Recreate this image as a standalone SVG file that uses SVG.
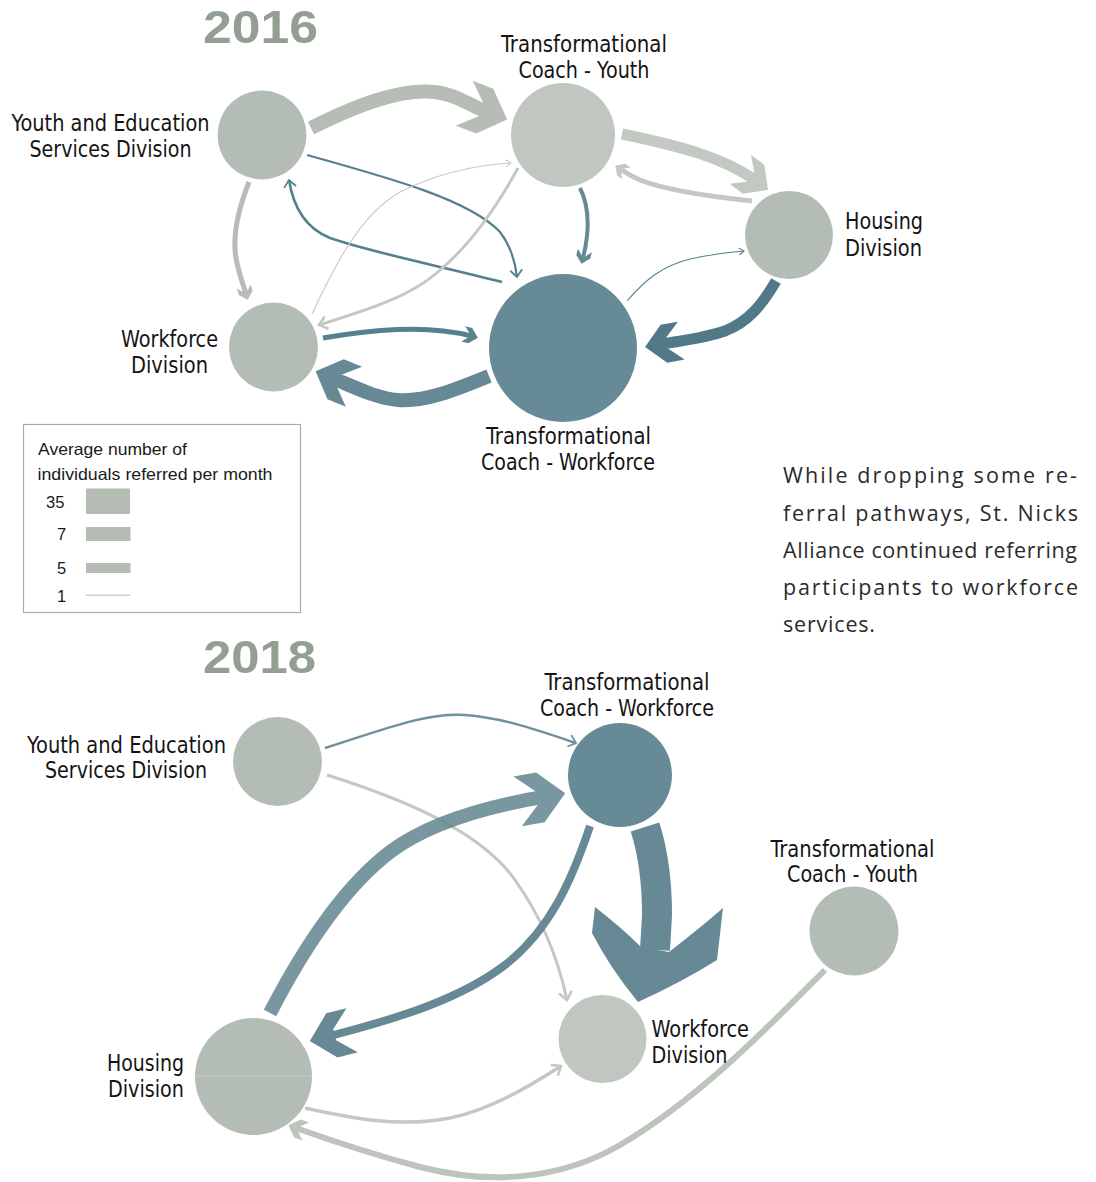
<svg xmlns="http://www.w3.org/2000/svg" xmlns:xlink="http://www.w3.org/1999/xlink" width="1096" height="1182" viewBox="0 0 1096 1182">
  <style>
    .year { font-family: "Liberation Sans", Arial, sans-serif; font-weight: bold; font-size: 46px; fill: #939f93; }
    .lbl { font-family: "Liberation Sans Narrow", "DejaVu Sans Condensed", sans-serif; font-size: 23px; fill: #141414; text-anchor: middle; }
    .lbl-l { font-family: "Liberation Sans Narrow", "DejaVu Sans Condensed", sans-serif; font-size: 23px; fill: #141414; }
    .leg { font-family: "Liberation Sans", Arial, sans-serif; font-size: 16.5px; fill: #1a1a1a; }
    .para { font-family: "Open Sans", "Noto Sans", sans-serif; font-size: 21.5px; fill: #2b2b2b; }
    .n-gray { fill: #b4bdb5; }
    .n-light { fill: #c0c7c0; }
    .n-teal { fill: #668a96; }
    .c { fill: none; stroke-linecap: butt; }
    .gray { stroke: #b5bdb5; }
    .lgray { stroke: #c2c9c2; }
    .teal { stroke: #668995; }
    .dteal { stroke: #517987; }
    .thin-teal { stroke: #55808e; }
  </style>
  <defs>
    <!-- notched chevron arrowhead; origin = end of shaft, tip 20 units ahead -->
    <path id="chev" d="M20,0 L-4,-24 L-26,-24 L-7,-6 L-7,6 L-26,24 L-4,24 Z"/>
    <marker id="h-gray-1" markerUnits="userSpaceOnUse" orient="auto" overflow="visible" viewBox="-40 -40 80 80" markerWidth="80" markerHeight="80" refX="0" refY="0">
      <use href="#chev" fill="#b5bdb5"/>
    </marker>
    <marker id="h-lgray-075" markerUnits="userSpaceOnUse" orient="auto" overflow="visible" viewBox="-40 -40 80 80" markerWidth="80" markerHeight="80" refX="0" refY="0">
      <use href="#chev" fill="#c2c9c2" transform="scale(0.75)"/>
    </marker>
    <marker id="h-lgray-03" markerUnits="userSpaceOnUse" orient="auto" overflow="visible" viewBox="-40 -40 80 80" markerWidth="80" markerHeight="80" refX="0" refY="0">
      <use href="#chev" fill="#c2c9c2" transform="scale(0.3)"/>
    </marker>
    <marker id="h-gray-03" markerUnits="userSpaceOnUse" orient="auto" overflow="visible" viewBox="-40 -40 80 80" markerWidth="80" markerHeight="80" refX="0" refY="0">
      <use href="#chev" fill="#b5bdb5" transform="scale(0.3)"/>
    </marker>
    <marker id="h-gray-04" markerUnits="userSpaceOnUse" orient="auto" overflow="visible" viewBox="-40 -40 80 80" markerWidth="80" markerHeight="80" refX="0" refY="0">
      <use href="#chev" fill="#bcc4bc" transform="scale(0.4)"/>
    </marker>
    <marker id="h-teal-03" markerUnits="userSpaceOnUse" orient="auto" overflow="visible" viewBox="-40 -40 80 80" markerWidth="80" markerHeight="80" refX="0" refY="0">
      <use href="#chev" fill="#668995" transform="scale(0.3)"/>
    </marker>
    <marker id="h-teal-033" markerUnits="userSpaceOnUse" orient="auto" overflow="visible" viewBox="-40 -40 80 80" markerWidth="80" markerHeight="80" refX="0" refY="0">
      <use href="#chev" fill="#5a8290" transform="scale(0.33)"/>
    </marker>
    <marker id="h-teal-09" markerUnits="userSpaceOnUse" orient="auto" overflow="visible" viewBox="-40 -40 80 80" markerWidth="80" markerHeight="80" refX="0" refY="0">
      <use href="#chev" fill="#668995" transform="scale(0.9)"/>
    </marker>
    <marker id="h-teal-095" markerUnits="userSpaceOnUse" orient="auto" overflow="visible" viewBox="-40 -40 80 80" markerWidth="80" markerHeight="80" refX="0" refY="0">
      <use href="#chev" fill="#668995" transform="scale(0.95)"/>
    </marker>
    <marker id="h-dteal-08" markerUnits="userSpaceOnUse" orient="auto" overflow="visible" viewBox="-40 -40 80 80" markerWidth="80" markerHeight="80" refX="0" refY="0">
      <use href="#chev" fill="#517987" transform="scale(0.8)"/>
    </marker>
    <marker id="h-pale-105" markerUnits="userSpaceOnUse" orient="auto" overflow="visible" viewBox="-40 -40 80 80" markerWidth="80" markerHeight="80" refX="0" refY="0">
      <use href="#chev" fill="#668995" transform="scale(1.05)"/>
    </marker>
    <!-- open V heads for thin links; tip at the end of the line -->
    <marker id="v-teal" markerUnits="userSpaceOnUse" orient="auto" overflow="visible" viewBox="-20 -20 40 40" markerWidth="40" markerHeight="40" refX="0" refY="0">
      <path d="M-7,-6 L0,0 L-7,6" fill="none" stroke="#55808e" stroke-width="1.8"/>
    </marker>
    <marker id="v-teal2" markerUnits="userSpaceOnUse" orient="auto" overflow="visible" viewBox="-20 -20 40 40" markerWidth="40" markerHeight="40" refX="0" refY="0">
      <path d="M-7,-6 L0,0 L-7,6" fill="none" stroke="#6f919c" stroke-width="1.8"/>
    </marker>
    <marker id="v-teal-thin" markerUnits="userSpaceOnUse" orient="auto" overflow="visible" viewBox="-20 -20 40 40" markerWidth="40" markerHeight="40" refX="0" refY="0">
      <path d="M-5,-3.5 L0,0 L-5,3.5" fill="none" stroke="#55808e" stroke-width="1.1"/>
    </marker>
    <marker id="v-lgray" markerUnits="userSpaceOnUse" orient="auto" overflow="visible" viewBox="-20 -20 40 40" markerWidth="40" markerHeight="40" refX="0" refY="0">
      <path d="M-8,-6.5 L0,0 L-8,6.5" fill="none" stroke="#c2c9c2" stroke-width="2.6"/>
    </marker>
    <marker id="v-lgray-thin" markerUnits="userSpaceOnUse" orient="auto" overflow="visible" viewBox="-20 -20 40 40" markerWidth="40" markerHeight="40" refX="0" refY="0">
      <path d="M-5,-3.5 L0,0 L-5,3.5" fill="none" stroke="#c2c9c2" stroke-width="1.1"/>
    </marker>
  </defs>

  <rect width="1096" height="1182" fill="#ffffff"/>

  <!-- ===== 2016 network ===== -->
  <text class="year" x="203" y="43" textLength="115" lengthAdjust="spacingAndGlyphs">2016</text>

  <g id="links-2016">
    <path class="c gray" stroke-width="14" d="M311,128 C355,106 400,88 435,92 C455,94 470,105.5 488.5,112.5" marker-end="url(#h-gray-1)"/>
    <path class="c lgray" stroke-width="11" d="M622,134 C680,146 725,158 756,181" marker-end="url(#h-lgray-075)"/>
    <path class="c lgray" stroke-width="5" d="M752,201 C705,196 665,190 640,180 C632,176.5 626,173 620.2,169" marker-end="url(#h-lgray-03)"/>
    <path class="c teal" stroke-width="4" d="M580,188 C592,212 588,238 583,258" marker-end="url(#h-teal-03)"/>
    <path class="c thin-teal" stroke-width="2.2" d="M307,155 C390,178 470,200 500,232 C510,245 515,260 517,277" marker-end="url(#v-teal)"/>
    <path class="c thin-teal" stroke-width="2.6" d="M502,282 C440,266 370,252 330,238 C305,228 293,205 289,180" marker-end="url(#v-teal)"/>
    <path class="c lgray" stroke-width="3" d="M518,168 C495,210 470,245 440,270 C410,298 360,312 319,325" marker-end="url(#v-lgray)"/>
    <path class="c lgray" stroke-width="1.1" d="M312,314 C335,265 360,215 400,192 C440,172 480,165 511,163" marker-end="url(#v-lgray-thin)"/>
    <path class="c thin-teal" stroke-width="5" d="M323,338 C370,330 425,324 471.5,336" marker-end="url(#h-teal-033)"/>
    <path class="c teal" stroke-width="14" d="M489,376 C455,390 425,402 398,400 C375,398 352,386 332.3,378" marker-end="url(#h-teal-09)"/>
    <path class="c dteal" stroke-width="11" d="M776,281 C762,305 748,322 725,331 C705,338 685,340 660.8,344.3" marker-end="url(#h-dteal-08)"/>
    <path class="c thin-teal" stroke-width="1.1" d="M627,301 C645,280 662,266 690,259 C712,254 730,252.5 744,251" marker-end="url(#v-teal-thin)"/>
    <path class="c gray" stroke-width="5" d="M249,182 C238,210 232,235 236,258 C239,274 243,284 246,294" marker-end="url(#h-gray-03)"/>
  </g>

  <g id="y16-youth-ed">
    <circle class="n-gray" cx="262" cy="135" r="44.5"/>
    <text class="lbl" x="110.5" y="131" textLength="198" lengthAdjust="spacingAndGlyphs">Youth and Education</text>
    <text class="lbl" x="110.5" y="157" textLength="162" lengthAdjust="spacingAndGlyphs">Services Division</text>
  </g>
  <g id="y16-coach-youth">
    <circle class="n-light" cx="563" cy="135" r="52"/>
    <text class="lbl" x="584" y="52" textLength="166" lengthAdjust="spacingAndGlyphs">Transformational</text>
    <text class="lbl" x="584" y="77.5" textLength="131" lengthAdjust="spacingAndGlyphs">Coach - Youth</text>
  </g>
  <g id="y16-housing">
    <circle class="n-gray" cx="789" cy="235" r="44"/>
    <text class="lbl-l" x="845" y="229" textLength="78" lengthAdjust="spacingAndGlyphs">Housing</text>
    <text class="lbl-l" x="845" y="256" textLength="77" lengthAdjust="spacingAndGlyphs">Division</text>
  </g>
  <g id="y16-workforce">
    <circle class="n-gray" cx="273.5" cy="347" r="44.5"/>
    <text class="lbl" x="169.5" y="347" textLength="97" lengthAdjust="spacingAndGlyphs">Workforce</text>
    <text class="lbl" x="169.5" y="373" textLength="77" lengthAdjust="spacingAndGlyphs">Division</text>
  </g>
  <g id="y16-coach-workforce">
    <circle class="n-teal" cx="563" cy="348" r="74"/>
    <text class="lbl" x="568.5" y="444" textLength="165" lengthAdjust="spacingAndGlyphs">Transformational</text>
    <text class="lbl" x="568" y="470" textLength="174" lengthAdjust="spacingAndGlyphs">Coach - Workforce</text>
  </g>

  <!-- ===== legend ===== -->
  <g id="legend">
    <rect x="23.5" y="424.5" width="277" height="188" fill="none" stroke="#a6b0a6" stroke-width="1.2"/>
    <text class="leg" x="38" y="455" textLength="149" lengthAdjust="spacingAndGlyphs">Average number of</text>
    <text class="leg" x="37.5" y="480" textLength="235" lengthAdjust="spacingAndGlyphs">individuals referred per month</text>
    <text class="leg" x="46" y="508">35</text>
    <text class="leg" x="57" y="540">7</text>
    <text class="leg" x="57" y="574">5</text>
    <text class="leg" x="57" y="602">1</text>
    <rect x="86" y="488.5" width="44" height="25.5" fill="#b5bdb5"/>
    <rect x="86" y="527" width="44.5" height="14" fill="#b5bdb5"/>
    <rect x="86" y="563" width="44.5" height="10" fill="#b5bdb5"/>
    <rect x="86" y="594.5" width="44" height="1.5" fill="#c9d0c9"/>
  </g>

  <!-- ===== side note ===== -->
  <g id="note">
    <text class="para" x="783" y="483" textLength="294" lengthAdjust="spacing">While dropping some re-</text>
    <text class="para" x="783" y="520.5" textLength="295" lengthAdjust="spacing">ferral pathways, St. Nicks</text>
    <text class="para" x="783" y="557.5" textLength="294" lengthAdjust="spacing">Alliance continued referring</text>
    <text class="para" x="783" y="595" textLength="295" lengthAdjust="spacing">participants to workforce</text>
    <text class="para" x="783" y="632" textLength="92" lengthAdjust="spacing">services.</text>
  </g>

  <!-- ===== 2018 network ===== -->
  <text class="year" x="203" y="673" textLength="113" lengthAdjust="spacingAndGlyphs">2018</text>

  <g id="links-2018">
    <path class="c" stroke="#6f919c" stroke-width="2.4" d="M325,748 C380,731 425,712 465,715 C505,718 540,731 576,743" marker-end="url(#v-teal2)"/>
    <path class="c lgray" stroke-width="3" d="M327,775 C400,798 480,830 515,880 C540,915 558,958 567,1000" marker-end="url(#v-lgray)"/>
    <path class="c lgray" stroke-width="3.5" d="M305,1108 C350,1118 400,1128 450,1118 C490,1110 530,1086 561,1066" marker-end="url(#v-lgray)"/>
    <path class="c" stroke="#bcc4bc" stroke-width="6" d="M825,970 C770,1025 700,1098 620,1145 C560,1180 490,1185 420,1167 C375,1155 335,1142 296,1128" marker-end="url(#h-gray-04)"/>
    <g opacity="0.88">
      <path class="c teal" stroke-width="14" d="M270,1013 C300,955 340,890 390,852 C430,822 490,806 544.5,796.7" marker-end="url(#h-pale-105)"/>
    </g>
    <path class="c teal" stroke-width="8" d="M590,826 C572,880 550,930 505,965 C462,998 400,1018 328.2,1036.4" marker-end="url(#h-teal-095)"/>
    <path class="c teal" stroke-width="30" d="M645,827 C653,852 657,880 657,915 L655,950"/>
    <path fill="#668995" d="M638,1002 Q610,968 592,933 L595,907 Q622,928 641,947 L669,952 Q700,928 723,908 L717,960 Q682,982 638,1002 Z"/>
  </g>

  <g id="y18-youth-ed">
    <circle class="n-gray" cx="277.5" cy="761.5" r="44.5"/>
    <text class="lbl" x="126.5" y="752.5" textLength="199" lengthAdjust="spacingAndGlyphs">Youth and Education</text>
    <text class="lbl" x="126" y="778" textLength="162" lengthAdjust="spacingAndGlyphs">Services Division</text>
  </g>
  <g id="y18-coach-workforce">
    <circle class="n-teal" cx="620" cy="775" r="52"/>
    <text class="lbl" x="627" y="690" textLength="165" lengthAdjust="spacingAndGlyphs">Transformational</text>
    <text class="lbl" x="627" y="716" textLength="174" lengthAdjust="spacingAndGlyphs">Coach - Workforce</text>
  </g>
  <g id="y18-coach-youth">
    <circle class="n-gray" cx="854" cy="931" r="44.5"/>
    <text class="lbl" x="852.5" y="856.5" textLength="164" lengthAdjust="spacingAndGlyphs">Transformational</text>
    <text class="lbl" x="852.5" y="882" textLength="131" lengthAdjust="spacingAndGlyphs">Coach - Youth</text>
  </g>
  <g id="y18-workforce">
    <circle class="n-light" cx="602.5" cy="1039" r="44"/>
    <text class="lbl-l" x="651.5" y="1036.5" textLength="97.5" lengthAdjust="spacingAndGlyphs">Workforce</text>
    <text class="lbl-l" x="651.5" y="1062.5" textLength="76" lengthAdjust="spacingAndGlyphs">Division</text>
  </g>
  <g id="y18-housing">
    <circle class="n-gray" cx="253.5" cy="1076.5" r="58.5"/>
    <line x1="195" y1="1076" x2="312" y2="1076" stroke="#c4cbc4" stroke-width="1"/>
    <text class="lbl" x="145.5" y="1071" textLength="77" lengthAdjust="spacingAndGlyphs">Housing</text>
    <text class="lbl" x="146" y="1097" textLength="76" lengthAdjust="spacingAndGlyphs">Division</text>
  </g>
</svg>
